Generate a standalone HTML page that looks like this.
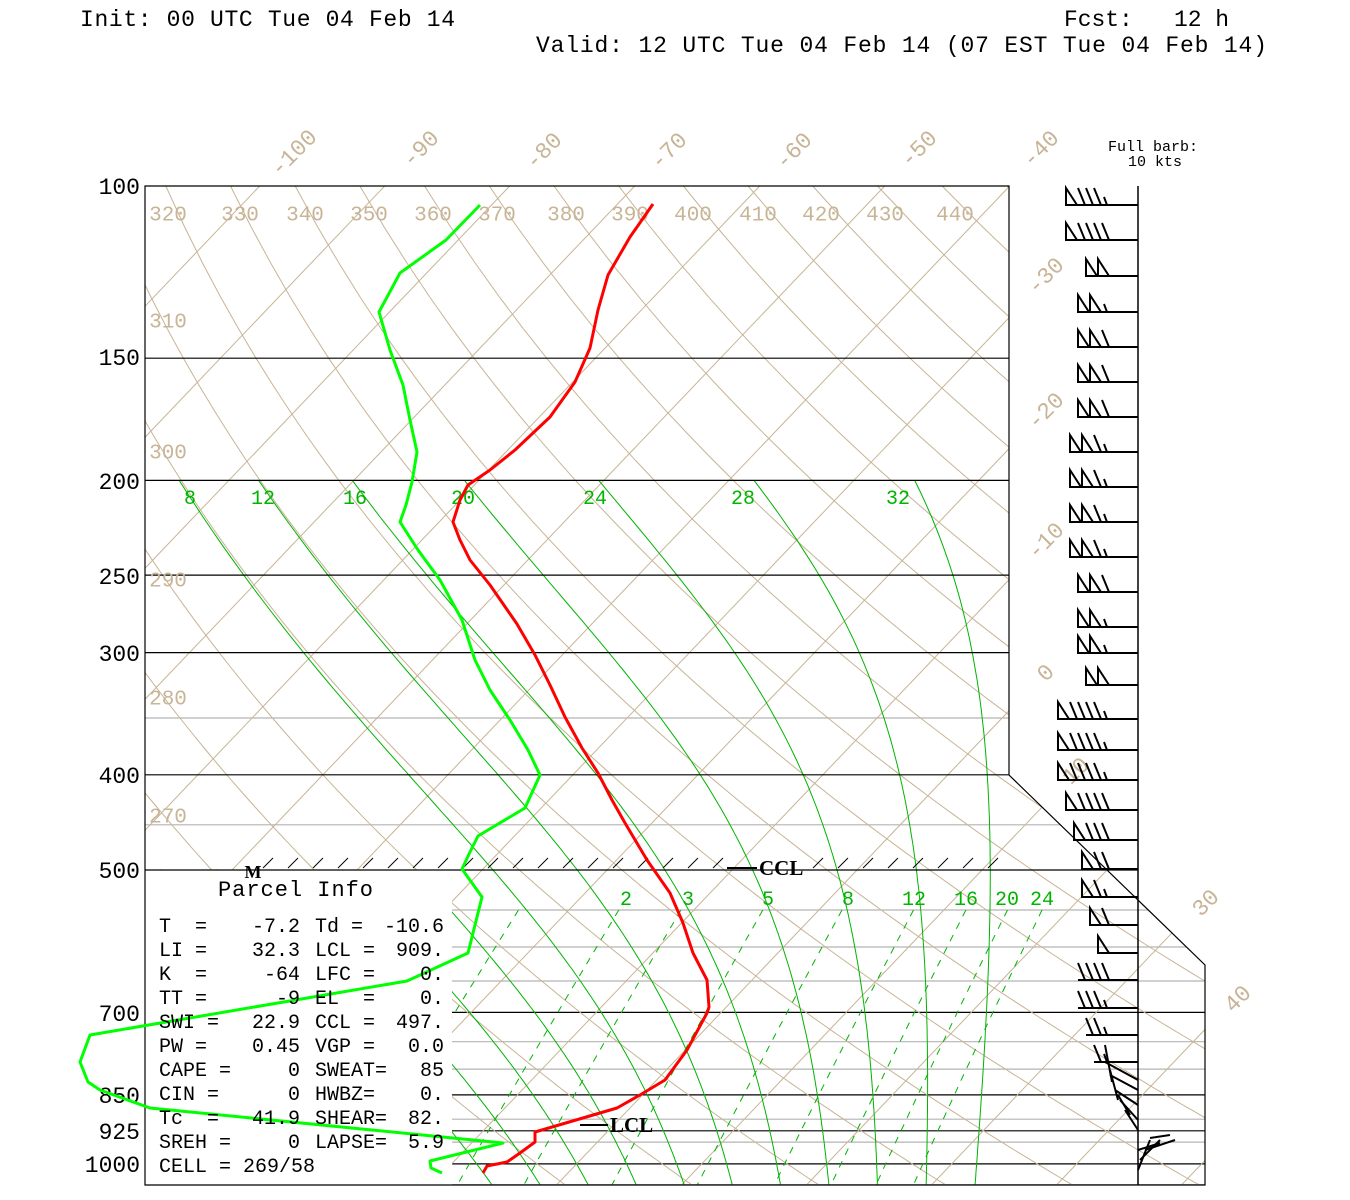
<!DOCTYPE html>
<html><head><meta charset="utf-8">
<style>
html,body{margin:0;padding:0;background:#fff;}
svg{display:block;}
text{font-family:"Liberation Mono",monospace;}
</style></head>
<body>
<div id="wrap"></div>
<script>
(function(){
var out=[];
function Y(p){return 186+424.7*Math.log(p/100);}
function XT(y){return 1046-(y-672)/1.048;}
function X(T,p){return XT(Y(p))+12.5*T;}
var TAN="#c8b496",GRN="#00b400",GRY="#b4b4b4";
var g2=[];
function sec(f){try{f();}catch(e){}}
sec(function(){
[350,450,550,600,650,750,800,900,950,1050].forEach(function(p){var y=Y(p).toFixed(1);g2.push('<line x1="140" x2="1210" y1="'+y+'" y2="'+y+'" stroke="'+GRY+'" stroke-width="1.2"/>');});
[700,850,925,1000].forEach(function(p){var y=Y(p).toFixed(1);g2.push('<line x1="140" x2="1210" y1="'+y+'" y2="'+y+'" stroke="#000" stroke-width="1.2"/>');});
});
sec(function(){
for(var T=-140;T<=60;T+=10){
 var y1=186,y2=1185;
 g2.push('<line x1="'+(XT(y1)+12.5*T).toFixed(1)+'" y1="'+y1+'" x2="'+(XT(y2)+12.5*T).toFixed(1)+'" y2="'+y2+'" stroke="'+TAN+'" stroke-width="1"/>');
}
});
sec(function(){
for(var th=240;th<=450;th+=10){
 var pts=[];
 for(var p=100;p<=1060;p+=10){var t=th*Math.pow(p/1000,0.286)-273.15;pts.push(X(t,p).toFixed(1)+','+Y(p).toFixed(1));}
 g2.push('<polyline points="'+pts.join(' ')+'" fill="none" stroke="'+TAN+'" stroke-width="1"/>');
}
});
function es(tc){return 6.112*Math.exp(17.67*tc/(tc+243.5));}
function gam(Tk,p){var tc=Tk-273.15;var e=es(tc);var rs=0.622*e/(p-e);var Rd=287,Lv=2.5e6,Cp=1004;
 return (Rd*Tk+Lv*rs)/p/(Cp+Lv*Lv*rs*0.622/(Rd*Tk*Tk));}
function moist(tw,ptop){
 var pts=[];var Tk=tw+273.15,p=1000;var up=[];var n=0;
 while(p>ptop&&n<2000){up.push([p,Tk]);Tk-=gam(Tk,p)*2;p-=2;n++;}
 up.push([p,Tk]);
 var dn=[];Tk=tw+273.15;p=1000;
 while(p<1060){Tk+=gam(Tk,p)*2;p+=2;dn.push([p,Tk]);}
 var all=up.reverse().concat(dn);
 for(var i=0;i<all.length;i+=3){pts.push(X(all[i][1]-273.15,all[i][0]).toFixed(1)+','+Y(all[i][0]).toFixed(1));}
 return pts;
}
sec(function(){
[8,12,16,20,24,28,32].forEach(function(tw){g2.push('<polyline points="'+moist(tw,200).join(' ')+'" fill="none" stroke="'+GRN+'" stroke-width="1"/>');});
[-12,-8,-4,0,4].forEach(function(tw){g2.push('<polyline points="'+moist(tw,500).join(' ')+'" fill="none" stroke="'+GRN+'" stroke-width="1"/>');});
});
sec(function(){
[0.4,1,2,3,5,8,12,16,20,24].forEach(function(w){
 var pts=[];
 for(var p=550;p<=1060;p+=10){var e=w*p/(622+w);var l=Math.log(e/6.112);var td=243.5*l/(17.67-l);pts.push(X(td,p).toFixed(1)+','+Y(p).toFixed(1));}
 g2.push('<polyline points="'+pts.join(' ')+'" fill="none" stroke="'+GRN+'" stroke-width="1" stroke-dasharray="7,7"/>');
});
});
out.push('<g clip-path="url(#cp2)">'+g2.join('')+'</g>');
[150,200,250,300,400].forEach(function(p){var y=Y(p).toFixed(1);out.push('<line x1="145" x2="1009" y1="'+y+'" y2="'+y+'" stroke="#000" stroke-width="1.2"/>');});
out.push('<line x1="145" x2="1138" y1="870" y2="870" stroke="#000" stroke-width="1.2"/>');
out.push('<polygon points="145,186 1009,186 1009,775 1205,965 1205,1185 145,1185" fill="none" stroke="#000" stroke-width="1.2"/>');
out.push('<line x1="1138" x2="1138" y1="186" y2="1185" stroke="#000" stroke-width="1.5"/>');
for(var x=263;x<=990;x+=25){ if(x>720&&x<800)continue; out.push('<line x1="'+x+'" y1="868" x2="'+(x+10)+'" y2="858" stroke="#000" stroke-width="1"/>');}
var L=[];
function t(x,y,s,c,fs,rot){L.push('<text x="'+x+'" y="'+(y+fs*0.35)+'" fill="'+c+'" font-size="'+fs+'" text-anchor="middle"'+(rot?' transform="rotate('+rot+' '+x+' '+y+')"':'')+'>'+s+'</text>');}
[[293,152,'-100'],[420,148,'-90'],[543,150,'-80'],[668,150,'-70'],[793,150,'-60'],[918,148,'-50'],[1040,148,'-40'],[1045,275,'-30'],[1045,410,'-20'],[1045,540,'-10'],[1045,672,'0'],[1075,770,'10'],[1205,902,'30'],[1237,998,'40']].forEach(function(a){t(a[0],a[1],a[2],TAN,23,-45);});
[[168,213,'320'],[240,213,'330'],[305,213,'340'],[369,213,'350'],[433,213,'360'],[497,213,'370'],[566,213,'380'],[630,213,'390'],[693,213,'400'],[758,213,'410'],[821,213,'420'],[885,213,'430'],[955,213,'440'],[168,320,'310'],[168,451,'300'],[168,579,'290'],[168,697,'280'],[168,815,'270']].forEach(function(a){t(a[0],a[1],a[2],TAN,21,0);});
[[190,497,'8'],[263,497,'12'],[355,497,'16'],[463,497,'20'],[595,497,'24'],[743,497,'28'],[898,497,'32'],[626,898,'2'],[688,898,'3'],[768,898,'5'],[848,898,'8'],[914,898,'12'],[966,898,'16'],[1007,898,'20'],[1042,898,'24']].forEach(function(a){t(a[0],a[1],a[2],'#00b400',20,0);});
[[100,186],[150,357],[200,481],[250,576],[300,653],[400,775],[500,870],[700,1013],[850,1095],[925,1131],[1000,1164]].forEach(function(a){L.push('<text x="140" y="'+(a[1]+8)+'" font-size="23" text-anchor="end" fill="#000">'+a[0]+'</text>');});
out.push(L.join(''));
var red=[[653,204],[630,237],[608,275],[598,310],[590,348],[575,382],[550,417],[515,450],[490,470],[468,485],[460,500],[453,522],[460,540],[470,560],[490,585],[517,624],[535,655],[550,685],[565,717],[582,748],[598,773],[612,800],[625,823],[647,860],[670,893],[683,923],[693,953],[707,980],[709,1007],[707,1013],[687,1050],[665,1080],[640,1095],[617,1108],[535,1132],[535,1142],[520,1153],[507,1162],[487,1166],[483,1173]];
var grn=[[480,205],[446,240],[400,273],[379,312],[390,350],[403,385],[410,420],[417,452],[412,482],[406,505],[400,522],[418,550],[440,580],[462,620],[475,660],[490,690],[510,720],[528,750],[540,775],[525,808],[478,836],[470,852],[462,869],[482,897],[468,953],[407,981],[90,1035],[80,1062],[88,1082],[100,1090],[150,1108],[503,1143],[430,1161],[431,1168],[442,1173]];
function pl(a,c){return '<polyline points="'+a.map(function(p){return p.join(',');}).join(' ')+'" fill="none" stroke="'+c+'" stroke-width="3" stroke-linejoin="round"/>';}
out.push(pl(grn,'#00ff00'));
out.push(pl(red,'#ff0000'));
out.push('<text x="253" y="878" font-size="18" font-weight="bold" text-anchor="middle" style="font-family:\'Liberation Serif\',serif">M</text>');
out.push('<line x1="727" x2="757" y1="868" y2="868" stroke="#000" stroke-width="2"/><text x="759" y="875" font-size="21" font-weight="bold" style="font-family:\'Liberation Serif\',serif">CCL</text>');
out.push('<line x1="580" x2="608" y1="1125" y2="1125" stroke="#000" stroke-width="2"/><text x="610" y="1132" font-size="21" font-weight="bold" style="font-family:\'Liberation Serif\',serif">LCL</text>');
var P=[];
P.push('<text x="218" y="896" font-size="22" textLength="155">Parcel  Info</text>');
var rows=[['T  =','-7.2','Td =','-10.6'],['LI =','32.3','LCL =','909.'],['K  =','-64','LFC =','0.'],['TT =','-9','EL  =','0.'],['SWI =','22.9','CCL =','497.'],['PW =','0.45','VGP =','0.0'],['CAPE =','0','SWEAT=','85'],['CIN =','0','HWBZ=','0.'],['Tc  =','41.9','SHEAR=','82.'],['SREH =','0','LAPSE=','5.9']];
rows.forEach(function(r,i){var y=932+i*24;
 P.push('<text x="159" y="'+y+'" font-size="20" style="white-space:pre">'+r[0]+'</text>');
 P.push('<text x="300" y="'+y+'" font-size="20" text-anchor="end">'+r[1]+'</text>');
 P.push('<text x="315" y="'+y+'" font-size="20" style="white-space:pre">'+r[2]+'</text>');
 P.push('<text x="444" y="'+y+'" font-size="20" text-anchor="end">'+r[3]+'</text>');
});
P.push('<text x="159" y="1172" font-size="20" style="white-space:pre">CELL = 269/58</text>');
out.push(P.join(''));
var B=[[205,'FBBBH'],[240,'FBBBB'],[276,'FF'],[312,'FFH'],[347,'FFB'],[382,'FFB'],[417,'FFB'],[452,'FFBH'],[487,'FFBH'],[522,'FFBH'],[557,'FFBH'],[592,'FFB'],[627,'FFH'],[653,'FFH'],[685,'FF'],[719,'FBBBBH'],[750,'FBBBBH'],[780,'FBBBBH'],[810,'FBBBB'],[840,'FBBB'],[869,'FBB'],[897,'FBH'],[925,'FB'],[953,'F'],[980,'BBBB'],[1008,'BBBH'],[1035,'BBH'],[1062,'BH']];
var W=[];
B.forEach(function(b){var y=b[0],s=b[1];var w=0,i;for(i=0;i<s.length;i++){w+=s.charAt(i)=='F'?12:8;}
 var x0=1110-w;W.push('<line x1="'+x0+'" y1="'+y+'" x2="1138" y2="'+y+'" stroke="#000" stroke-width="2"/>');
 var x=x0;for(i=0;i<s.length;i++){var c=s.charAt(i);
  if(c=='F'){W.push('<polygon points="'+x+','+y+' '+x+','+(y-17)+' '+(x+11)+','+y+'" fill="none" stroke="#000" stroke-width="2"/>');x+=12;}
  else if(c=='B'){W.push('<line x1="'+x+'" y1="'+(y-17)+'" x2="'+(x+7)+'" y2="'+y+'" stroke="#000" stroke-width="2"/>');x+=8;}
  else{W.push('<line x1="'+(x+2)+'" y1="'+(y-8)+'" x2="'+(x+5)+'" y2="'+y+'" stroke="#000" stroke-width="2"/>');x+=8;}
 }});
[[1105,1062,1138,1080],[1110,1075,1138,1090],[1115,1090,1138,1105],[1105,1045,1112,1082],[1110,1070,1118,1100],[1118,1095,1130,1115],[1125,1110,1138,1130],[1120,1100,1138,1120],
 [1138,1170,1150,1140],[1140,1160,1160,1140],[1145,1150,1175,1140],[1150,1138,1170,1135],[1138,1150,1160,1143]].forEach(function(l){W.push('<line x1="'+l[0]+'" y1="'+l[1]+'" x2="'+l[2]+'" y2="'+l[3]+'" stroke="#000" stroke-width="2"/>');});
out.push(W.join(''));
var head='<svg width="1350" height="1200" viewBox="0 0 1350 1200" xmlns="http://www.w3.org/2000/svg">'+
'<defs><clipPath id="cp2"><polygon points="145,186 1009,186 1009,775 1205,965 1205,1185 452,1185 452,870 145,870"/></clipPath></defs>';
var tail='<text x="80" y="26" font-size="23" textLength="375">Init: 00 UTC Tue 04 Feb 14</text>'+
'<text x="1064" y="26" font-size="23" textLength="165" style="white-space:pre">Fcst:   12 h</text>'+
'<text x="536" y="52" font-size="23" textLength="731">Valid: 12 UTC Tue 04 Feb 14 (07 EST Tue 04 Feb 14)</text>'+
'<text x="1153" y="151" font-size="15" text-anchor="middle">Full barb:</text>'+
'<text x="1155" y="166" font-size="15" text-anchor="middle">10 kts</text></svg>';
document.getElementById('wrap').innerHTML=head+out.join('')+tail;
})();
</script>
</body></html>
